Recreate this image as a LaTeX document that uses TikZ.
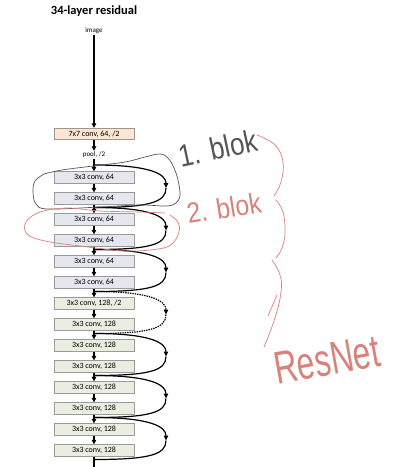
\documentclass[tikz,border=0pt]{standalone}
\usepackage{fontspec}
\setmainfont{Carlito}
\newfontfamily\handfont{Liberation Sans}
\usetikzlibrary{arrows.meta,calc}
\definecolor{boxA}{HTML}{E6E6EF}
\definecolor{boxB}{HTML}{E9EEE1}
\definecolor{boxC}{HTML}{FBE6D5}
\definecolor{boxline}{HTML}{9A9A9A}
\definecolor{penred}{HTML}{D9817B}
\definecolor{pengray}{HTML}{555555}
\tikzset{
  layer/.style={draw=boxline, line width=0.8pt, minimum width=80pt, minimum height=11.5pt, inner sep=0pt, font=\fontsize{8}{8}\selectfont},
  conv64/.style={layer, fill=boxA},
  conv128/.style={layer, fill=boxB},
  conv7/.style={layer, fill=boxC, draw=boxline!80!brown},
  lbl/.style={inner sep=1pt, font=\fontsize{7}{7}\selectfont},
  flow/.style={line width=1.2pt, -{Triangle[length=4.5pt,width=4.5pt]}},
  skiparr/.style={line width=1.2pt, -{Triangle[length=5pt,width=4.5pt]}},
  skipline/.style={line width=1.2pt},
  dotted skip/.style={dash pattern=on 1.4pt off 1pt},
  pen/.style={line width=0.7pt, line cap=round, line join=round},
  hand/.style={inner sep=0pt, font=\handfont\fontsize{26}{26}\selectfont},
}
\begin{document}
\begin{tikzpicture}[x=1pt,y=-1pt]
\useasboundingbox (0,0) rectangle (407,467);
\clip (0,0) rectangle (407,467);
\fill[white] (0,0) rectangle (407,467);
% title
\node[font=\bfseries\fontsize{12.5}{12.5}\selectfont] (title) at (94,11) {34-layer residual};
\node[lbl] (img) at (94,31) {image};
\node[conv7] (c7) at (94,134) {7x7 conv, 64, /2};
\node[lbl] (pool) at (94,155) {pool, /2};
% boxes
\foreach \i/\st/\t in {1/conv64/{3x3 conv, 64},2/conv64/{3x3 conv, 64},3/conv64/{3x3 conv, 64},4/conv64/{3x3 conv, 64},5/conv64/{3x3 conv, 64},6/conv64/{3x3 conv, 64},7/conv128/{3x3 conv, 128, /2},8/conv128/{3x3 conv, 128},9/conv128/{3x3 conv, 128},10/conv128/{3x3 conv, 128},11/conv128/{3x3 conv, 128},12/conv128/{3x3 conv, 128},13/conv128/{3x3 conv, 128},14/conv128/{3x3 conv, 128}}{
  \node[\st] (b\i) at (94,{177.5+21*(\i-1)}) {\t};
}
\coordinate (bend) at (94,475);
% main flow
\draw[flow] (img) -- (c7);
\draw[flow] (c7) -- (pool);
\draw[flow] (pool) -- (b1);
\foreach \i [evaluate=\i as \j using int(\i+1)] in {1,...,13}{
  \draw[flow] (b\i) -- (b\j);
}
\draw[skipline] (b14) -- (bend);
% junctions
\coordinate (j0) at (94,165);
\foreach \k in {1,...,7}{
  \coordinate (j\k) at (94,{177.5+21*(2*\k-1)+9});
}
\foreach \k in {1,...,7}{
  \coordinate (r\k) at (166,{(177.5+21*(2*\k-1)+9 + 177.5+21*(2*\k-3)+9)/2 + 2});
}
\coordinate (r1) at (166,188);
% skip connections
\foreach \k [evaluate=\k as \p using int(\k-1)] in {1,2,3,5,6,7}{
  \draw[skiparr] (j\p) .. controls ($(j\p)+(56,0)$) and ($(r\k)+(0,-14)$) .. (r\k);
  \draw[skipline] (r\k) .. controls ($(r\k)+(0,14)$) and ($(j\k)+(56,0)$) .. (j\k);
}
\draw[skiparr, dotted skip] (j3) .. controls ($(j3)+(56,0)$) and ($(r4)+(0,-14)$) .. (r4);
\draw[skipline, dotted skip] (r4) .. controls ($(r4)+(0,14)$) and ($(j4)+(56,0)$) .. (j4);
% handwritten annotations
\draw[pen, pengray] plot[smooth, tension=0.6] coordinates {(44,174) (62,170) (93,166) (125,162) (145,157) (160,154) (168,158) (174,168) (178,180) (180,195) (176,203) (166,206) (140,205) (100,207) (48,209) (36,204) (33,192) (35,181) (44,174)};
\draw[pen, penred] plot[smooth, tension=0.6] coordinates {(165,213) (140,212) (100,211) (67,208) (40,212) (26,222) (27,234) (45,241) (80,246) (125,251) (158,249) (172,244) (179,232) (178,222) (170,215)};
\draw[pen, penred] plot[smooth, tension=0.7] coordinates {(257,135) (275,145) (283,162) (281,182) (274,196)};
\draw[pen, penred] plot[smooth, tension=0.7] coordinates {(276,200) (283,212) (285,232) (282,248) (276,258)};
\draw[pen, penred] plot[smooth, tension=0.7] coordinates {(272,260) (280,275) (281,292) (275,318) (264,347)};
\draw[pen, penred] (277,295) -- (268,316);
\node[hand, text=pengray, rotate=12, yscale=1.2] (blk1) at (218,148) {1. blok};
\node[hand, text=penred, rotate=9, yscale=1.1, xscale=0.95] (blk2) at (224,208) {2. blok};
\node[hand, text=penred, font=\handfont\fontsize{40}{40}\selectfont, rotate=10, xscale=0.8, yscale=1.15] (resnet) at (327,360) {ResNet};
\end{tikzpicture}
\end{document}
